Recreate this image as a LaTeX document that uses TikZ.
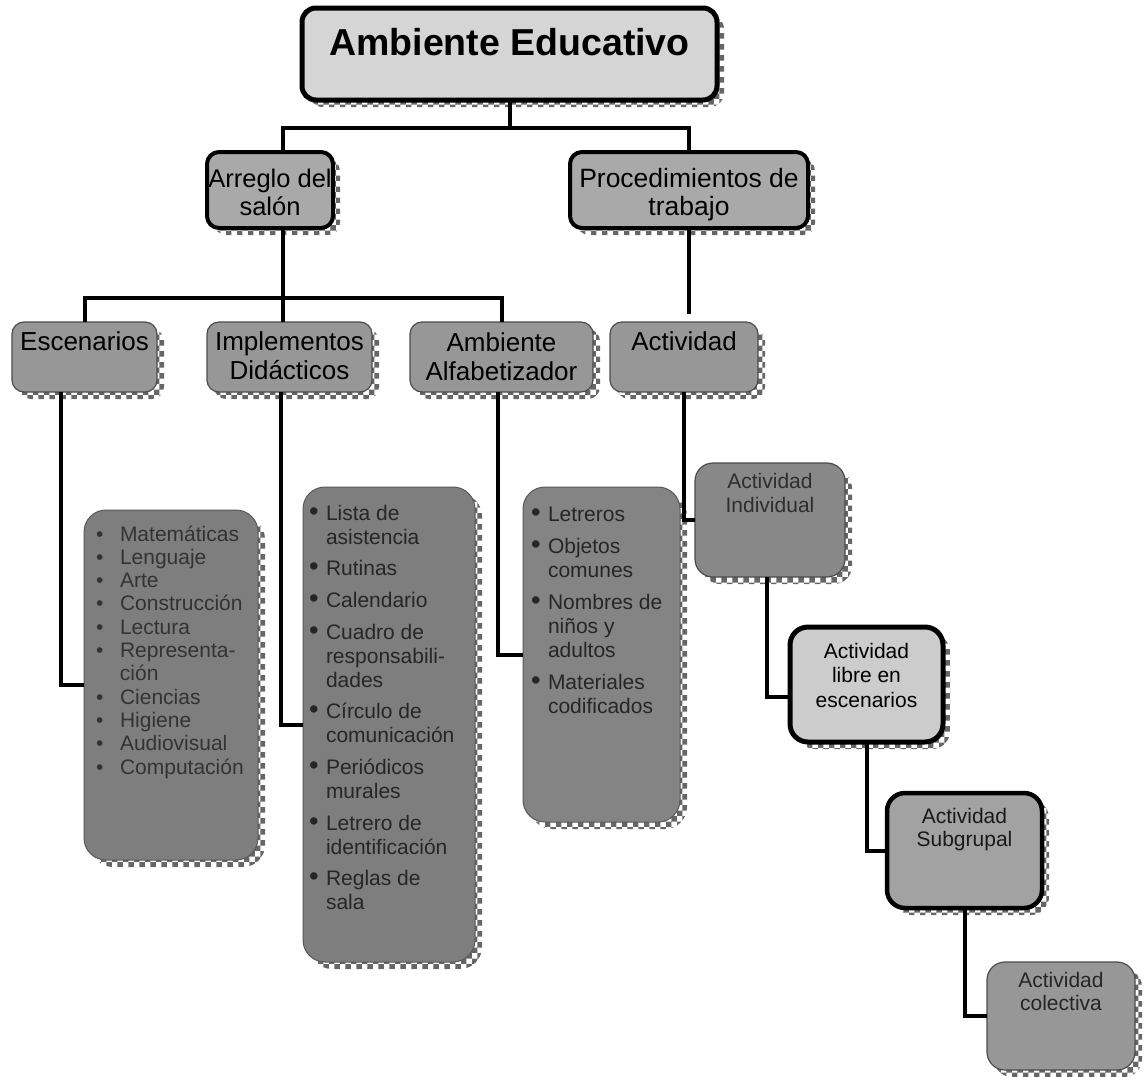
\documentclass[tikz,border=0pt]{standalone}
\usepackage{fontspec}
\setmainfont{Liberation Sans}
\usetikzlibrary{shadows,patterns}

\definecolor{boxlight}{HTML}{D5D5D5}
\definecolor{boxmid}{HTML}{A9A9A9}
\definecolor{boxgrey}{HTML}{979797}
\definecolor{listgrey}{HTML}{7E7E7E}
\definecolor{indivgrey}{HTML}{888888}

\newlength\lind
\newlength\bpos
\newcommand\bscale{1}
% centred text block: height, width, first baseline, font size, leading, text
\newcommand\ctext[6]{%
  \parbox[c][#1pt][t]{#2pt}{\centering\fontsize{#4}{#5}\selectfont
    \lineskiplimit=-50pt\rule{0pt}{#3pt}#6\par}}
% bulleted list block: height, width, bullet offset, text offset, leading, items
\newcommand\ltext[6]{%
  \parbox[c][#1pt][t]{#2pt}{\setlength\bpos{#3pt}\setlength\lind{#4pt}%
    \fontsize{21}{#5}\selectfont\lineskiplimit=-50pt\parskip=0pt #6\par}}
\newcommand\li[2][0pt]{\par\vspace{#1}\noindent\hangindent=\lind\hangafter=1
  \makebox[\lind][l]{\hspace*{\bpos}\smash{\scalebox{\bscale}{\textbullet}}}#2}

\tikzset{
  every node/.style={inner sep=0pt, outer sep=0pt},
  shad/.style={general shadow={shadow xshift=7pt, shadow yshift=-7pt,
      pattern=checkerboard, pattern color=black!60}},
  topbox/.style={shad, draw=black, line width=5pt, fill=boxlight, rounded corners=14pt},
  heavybox/.style={shad, draw=black, line width=4pt, fill=boxmid, rounded corners=12pt},
  plainbox/.style={shad, draw=black!70, line width=1.2pt, fill=boxgrey, rounded corners=12pt},
  listbox/.style={shad, draw=black!65, line width=1pt, fill=listgrey, rounded corners=22pt},
  conn/.style={draw=black, line width=4pt},
}

\begin{document}
\begin{tikzpicture}[x=1pt, y=-1pt]
\useasboundingbox (0,0) rectangle (1144,1077);

% root and second level
\node[topbox] (top) at (509.5,54)
  {\ctext{92}{415}{47}{37.5}{40}{\bfseries Ambiente Educativo}};
\node[heavybox] (arreglo) at (270,190)
  {\ctext{76}{126}{35}{25.5}{28}{Arreglo del\\salón}};
\node[heavybox] (proc) at (689,190)
  {\ctext{76}{238}{35}{26.5}{28}{Procedimientos de\\trabajo}};

% third level
\node[plainbox] (esc) at (84.5,357)
  {\ctext{70}{145}{28}{26}{29}{Escenarios}};
\node[plainbox] (impl) at (289.5,357)
  {\ctext{70}{165}{28}{26}{29}{Implementos\\Didácticos}};
\node[plainbox] (alf) at (501.5,357)
  {\ctext{70}{183}{29}{26}{29}{Ambiente\\Alfabetizador}};
\node[plainbox] (act) at (684,357)
  {\ctext{70}{148}{28}{26}{29}{Actividad}};

% lists
\node[listbox, text=black!80] (esclist) at (171,685)
  {\ltext{350}{174}{12}{36}{23.3}{%
    \li{\rule{0pt}{31pt}Matemáticas}
    \li{Lenguaje}
    \li{Arte}
    \li{Construcción}
    \li{Lectura}
    \li{Representa-\\ción}
    \li{Ciencias}
    \li{Higiene}
    \li{Audiovisual}
    \li{Computación}}};
\node[listbox, text=black!85] (impllist) at (389,724.5)
  {\renewcommand\bscale{1.3}\ltext{475}{172}{6}{23}{24}{%
    \li{\rule{0pt}{33pt}Lista de\\asistencia}
    \li[7.7pt]{Rutinas}
    \li[7.7pt]{Calendario}
    \li[7.7pt]{Cuadro de\\responsabili-\\dades}
    \li[7.7pt]{Círculo de\\comunicación}
    \li[7.7pt]{Periódicos\\murales}
    \li[7.7pt]{Letrero de\\identificación}
    \li[7.7pt]{Reglas de\\sala}}};
\node[listbox, fill=listgrey!95!white, text=black!85] (alflist) at (601.5,654.5)
  {\renewcommand\bscale{1.3}\ltext{335}{157}{8}{25}{24}{%
    \li{\rule{0pt}{34pt}Letreros}
    \li[8pt]{Objetos\\comunes}
    \li[8pt]{Nombres de\\niños y\\adultos}
    \li[8pt]{Materiales\\codificados}}};

% activity chain
\node[plainbox, fill=indivgrey, rounded corners=18pt, text=black!82] (indiv) at (770,520)
  {\ctext{114}{150}{25}{21}{24}{Actividad\\Individual}};
\node[topbox, fill=boxlight!96!black, rounded corners=18pt] (libre) at (866.5,684.5)
  {\ctext{115}{153}{31}{21}{24.5}{Actividad\\libre en\\escenarios}};
\node[heavybox, line width=4.5pt, fill=boxmid!96!black, rounded corners=18pt, text=black!90] (subg) at (964.5,850.5)
  {\ctext{115}{155}{30}{21}{23}{Actividad\\Subgrupal}};
\node[plainbox, rounded corners=18pt, text=black!85] (colect) at (1061,1016)
  {\ctext{108}{148}{25}{21}{23}{Actividad\\colectiva}};

% connectors of the upper tree
\draw[conn] (top.south) -- ++(0,28);
\draw[conn] ([xshift=13pt]arreglo.north) -- ++(0,-24) -| (proc.north);
\draw[conn] ([xshift=13pt]arreglo.south) -- ([xshift=13pt]arreglo.south |- impl.north);
\draw[conn] (esc.north) -- ++(0,-24) -| (alf.north);
\draw[conn, shorten >=8pt] (proc.south) -- (proc.south |- act.north);

% connectors to the lists and along the activity chain
\draw[conn] ([xshift=-24pt]esc.south) |- (esclist.west);
\draw[conn] ([xshift=-9pt]impl.south) |- (impllist.west);
\draw[conn] ([xshift=-4pt]alf.south) |- (alflist.west);
\draw[conn] (act.south) |- (indiv.west);
\draw[conn] ([xshift=-3pt]indiv.south) |- ([yshift=-12pt]libre.west);
\draw[conn] (libre.south) |- (subg.west);
\draw[conn] (subg.south) |- (colect.west);
\end{tikzpicture}
\end{document}
